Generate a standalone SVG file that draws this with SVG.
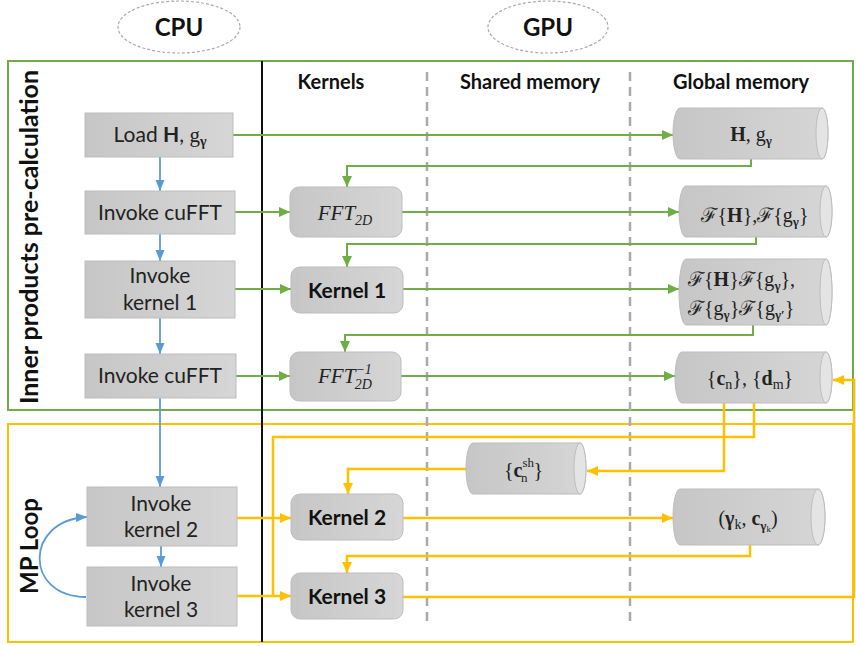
<svg xmlns="http://www.w3.org/2000/svg" width="856" height="646" viewBox="0 0 856 646">
<defs>
<linearGradient id="gb" x1="0" y1="0" x2="1" y2="0">
<stop offset="0" stop-color="#c6c6c6"/><stop offset="1" stop-color="#d6d6d6"/>
</linearGradient>
<marker id="ag" markerUnits="userSpaceOnUse" markerWidth="12" markerHeight="12" refX="11" refY="6" orient="auto"><path d="M0,1 L11,6 L0,11 Z" fill="#70ad47"/></marker>
<marker id="ao" markerUnits="userSpaceOnUse" markerWidth="12" markerHeight="12" refX="11" refY="6" orient="auto"><path d="M0,1 L11,6 L0,11 Z" fill="#ffc000"/></marker>
<marker id="ab" markerUnits="userSpaceOnUse" markerWidth="12" markerHeight="12" refX="11" refY="6" orient="auto"><path d="M0,1.5 L11,6 L0,10.5 Z" fill="#5b9bd5"/></marker>
<style>
.lbl{font-family:Lato,"Open Sans",sans-serif;font-size:21px;fill:#222;text-anchor:middle}
.hdr{font-family:Lato,"Open Sans",sans-serif;font-size:20px;font-weight:bold;fill:#111;text-anchor:middle}
.vt{font-family:Lato,"Open Sans",sans-serif;font-size:25px;font-weight:bold;fill:#111;text-anchor:middle}
.big{font-family:Lato,"Open Sans",sans-serif;font-size:24px;font-weight:bold;fill:#111;text-anchor:middle}
.kb{font-family:Lato,"Open Sans",sans-serif;font-size:21px;font-weight:bold;fill:#111;text-anchor:middle}
.m{font-family:"Liberation Serif","DejaVu Serif",serif;font-size:20px;fill:#222}
.ms{font-family:"Liberation Serif","DejaVu Serif",serif}
.mi{font-family:"Liberation Serif","DejaVu Serif",serif;font-size:21px;font-style:italic;fill:#222;text-anchor:middle}
.box{fill:url(#gb);stroke:#bdbdbd;stroke-width:1}
.cap{fill:#e4e4e4;stroke:#bdbdbd;stroke-width:1}
.g{fill:none;stroke:#70ad47;stroke-width:2}
.o{fill:none;stroke:#ffc000;stroke-width:2.5}
.b{fill:none;stroke:#5b9bd5;stroke-width:1.8}
.dash{stroke:#aaaaaa;stroke-width:2.5;stroke-dasharray:9,6}
.ell{fill:#fff;stroke:#aaaaaa;stroke-width:1.2;stroke-dasharray:3,2}
</style>
</defs>
<rect width="856" height="646" fill="#fff"/>

<g id="frames">
<rect x="8" y="61" width="845" height="349" fill="none" stroke="#70ad47" stroke-width="2"/>
<rect x="8" y="424" width="845" height="218" fill="none" stroke="#ffc000" stroke-width="2"/>
<line x1="262" y1="61" x2="262" y2="642" stroke="#111" stroke-width="2"/>
<line class="dash" x1="427" y1="72" x2="427" y2="626"/>
<line class="dash" x1="630" y1="72" x2="630" y2="626"/>
</g>

<g id="cpu"><ellipse class="ell" cx="179" cy="27" rx="61" ry="26"/><text class="big" x="179" y="36">CPU</text></g>
<g id="gpu"><ellipse class="ell" cx="548" cy="27" rx="60" ry="26"/><text class="big" x="548" y="36">GPU</text></g>

<g id="headers">
<text class="hdr" x="331" y="89">Kernels</text>
<text class="hdr" x="530" y="89">Shared memory</text>
<text class="hdr" x="741" y="89">Global memory</text>
<text class="vt" transform="translate(38,237) rotate(-90)">Inner products pre-calculation</text>
<text class="vt" style="font-size:24px" transform="translate(38,546) rotate(-90)">MP Loop</text>
</g>

<g id="connectors">
<path class="g" d="M233,135 H673" marker-end="url(#ag)"/>
<path class="g" d="M751,159 V166 H347 V187" marker-end="url(#ag)"/>
<path class="g" d="M235,212 H290" marker-end="url(#ag)"/>
<path class="g" d="M402,212 H679" marker-end="url(#ag)"/>
<path class="g" d="M756,237 V244 H347 V267" marker-end="url(#ag)"/>
<path class="g" d="M235,289 H291" marker-end="url(#ag)"/>
<path class="g" d="M403,289 H679" marker-end="url(#ag)"/>
<path class="g" d="M753,325 V335 H345 V352" marker-end="url(#ag)"/>
<path class="g" d="M236,376 H290" marker-end="url(#ag)"/>
<path class="g" d="M401,376 H675" marker-end="url(#ag)"/>

<path class="o" d="M724,403 V471 H587" marker-end="url(#ao)"/>
<path class="o" d="M754,403 V437 H273 V596"/>
<path class="o" d="M237,518 H291" marker-end="url(#ao)"/>
<path class="o" d="M403,518 H673" marker-end="url(#ao)"/>
<path class="o" d="M466,469 H348 V494" marker-end="url(#ao)"/>
<path class="o" d="M750,545 V556 H347 V573" marker-end="url(#ao)"/>
<path class="o" d="M237,596 H291" marker-end="url(#ao)"/>
<path class="o" d="M403,597 H854 V380 H833" marker-end="url(#ao)"/>

<path class="b" d="M160,157 V191" marker-end="url(#ab)"/>
<path class="b" d="M160,234 V261" marker-end="url(#ab)"/>
<path class="b" d="M160,318 V354" marker-end="url(#ab)"/>
<path class="b" d="M160,398 V487" marker-end="url(#ab)"/>
<path class="b" d="M161,546 V567" marker-end="url(#ab)"/>
<path class="b" d="M86,597 C24,597 24,520 87,517" marker-end="url(#ab)"/>
</g>

<g id="load">
<rect class="box" x="85" y="113" width="148" height="44"/>
<text class="lbl" x="160" y="142">Load <tspan font-weight="bold">H</tspan>, <tspan class="ms">g</tspan><tspan class="ms" font-weight="bold" font-size="14" dy="4">γ</tspan></text>
</g>
<g id="cufft1">
<rect class="box" x="85" y="191" width="150" height="43"/>
<text class="lbl" x="160" y="220">Invoke cuFFT</text>
</g>
<g id="invk1">
<rect class="box" x="85" y="261" width="150" height="57"/>
<text class="lbl" x="160" y="283">Invoke</text>
<text class="lbl" x="160" y="310">kernel 1</text>
</g>
<g id="cufft2">
<rect class="box" x="85" y="354" width="151" height="44"/>
<text class="lbl" x="160" y="383">Invoke cuFFT</text>
</g>
<g id="invk2">
<rect class="box" x="87" y="487" width="150" height="59"/>
<text class="lbl" x="161" y="511">Invoke</text>
<text class="lbl" x="161" y="537">kernel 2</text>
</g>
<g id="invk3">
<rect class="box" x="87" y="567" width="150" height="59"/>
<text class="lbl" x="161" y="591">Invoke</text>
<text class="lbl" x="161" y="617">kernel 3</text>
</g>

<g id="fft">
<rect class="box" x="290" y="187" width="112" height="50" rx="9"/>
<text class="mi" x="345" y="220">FFT<tspan font-size="14" dy="5">2D</tspan></text>
</g>
<g id="kernel1">
<rect class="box" x="291" y="267" width="112" height="46" rx="9"/>
<text class="kb" x="347" y="298">Kernel 1</text>
</g>
<g id="ifft">
<rect class="box" x="290" y="352" width="111" height="49" rx="9"/>
<text class="mi" x="345" y="383">FFT<tspan font-size="14" dy="-9">−1</tspan><tspan font-size="14" dx="-17" dy="15">2D</tspan></text>
</g>
<g id="kernel2">
<rect class="box" x="291" y="494" width="112" height="46" rx="9"/>
<text class="kb" x="347" y="525">Kernel 2</text>
</g>
<g id="kernel3">
<rect class="box" x="291" y="573" width="112" height="46" rx="9"/>
<text class="kb" x="347" y="604">Kernel 3</text>
</g>

<g id="memH">
<path class="box" d="M680,108 H822 A6,25.5 0 0 1 822,159 H680 A7,25.5 0 0 1 680,108 Z"/>
<ellipse class="cap" cx="822" cy="133.5" rx="6" ry="25.5"/>
<text class="m" x="751" y="141" text-anchor="middle"><tspan font-weight="bold">H</tspan>, g<tspan font-weight="bold" font-size="13" dy="4">γ</tspan></text>
</g>
<g id="memF">
<path class="box" d="M686,186 H826 A6,25.5 0 0 1 826,237 H686 A7,25.5 0 0 1 686,186 Z"/>
<ellipse class="cap" cx="826" cy="211.5" rx="6" ry="25.5"/>
<text class="m" x="755" y="222" text-anchor="middle">ℱ{<tspan font-weight="bold">H</tspan>},ℱ{g<tspan font-weight="bold" font-size="13" dy="4">γ</tspan><tspan dy="-4">}</tspan></text>
</g>
<g id="memFF">
<path class="box" d="M686,259 H826 A6,33 0 0 1 826,325 H686 A7,33 0 0 1 686,259 Z"/>
<ellipse class="cap" cx="826" cy="292" rx="6" ry="33"/>
<text class="m" x="688" y="286">ℱ{<tspan font-weight="bold">H</tspan>}ℱ{g<tspan font-weight="bold" font-size="13" dy="4">γ</tspan><tspan dy="-4">},</tspan></text>
<text class="m" x="688" y="315">ℱ{g<tspan font-weight="bold" font-size="13" dy="4">γ</tspan><tspan dy="-4">}ℱ{g</tspan><tspan font-weight="bold" font-size="13" dy="4">γ′</tspan><tspan dy="-4">}</tspan></text>
</g>
<g id="memC">
<path class="box" d="M682,352 H826 A6,25.5 0 0 1 826,403 H682 A7,25.5 0 0 1 682,352 Z"/>
<ellipse class="cap" cx="826" cy="377.5" rx="6" ry="25.5"/>
<text class="m" x="750" y="385" text-anchor="middle">{<tspan font-weight="bold">c</tspan><tspan font-size="14" dy="4">n</tspan><tspan dy="-4">}, {</tspan><tspan font-weight="bold">d</tspan><tspan font-size="14" dy="4">m</tspan><tspan dy="-4">}</tspan></text>
</g>
<g id="memSh">
<path class="box" d="M473,443 H580 A6,25.5 0 0 1 580,494 H473 A7,25.5 0 0 1 473,443 Z"/>
<ellipse class="cap" cx="580" cy="468.5" rx="6" ry="25.5"/>
<text class="m" x="504" y="477">{<tspan font-weight="bold">c</tspan><tspan font-size="13" dy="-10">sh</tspan><tspan font-size="13" dx="-13" dy="15">n</tspan><tspan dx="6" dy="-5">}</tspan></text>
</g>
<g id="memG">
<path class="box" d="M680,489 H818 A7,28 0 0 1 818,545 H680 A7,28 0 0 1 680,489 Z"/>
<ellipse class="cap" cx="818" cy="517" rx="7" ry="28"/>
<text class="m" x="748" y="525" text-anchor="middle">(<tspan font-weight="bold">γ</tspan><tspan font-size="14" dy="4">k</tspan><tspan dy="-4">, </tspan><tspan font-weight="bold">c</tspan><tspan font-weight="bold" font-size="13" dy="5">γ</tspan><tspan font-size="9" dy="2">k</tspan><tspan dy="-7">)</tspan></text>
</g>
</svg>
